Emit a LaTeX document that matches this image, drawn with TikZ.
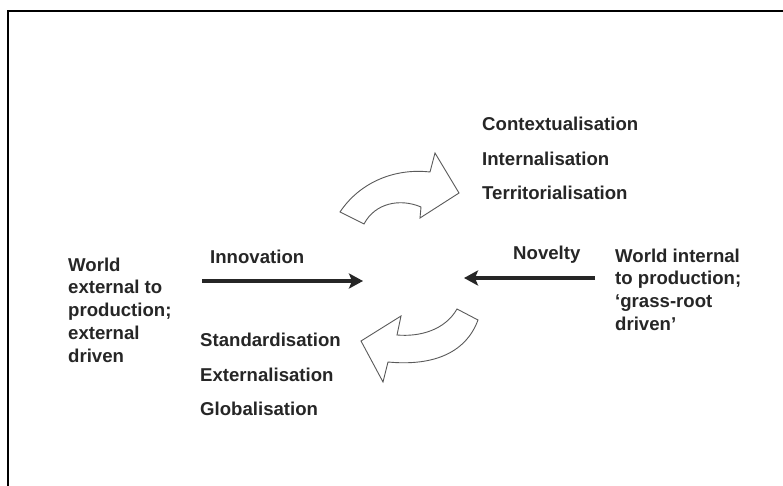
\documentclass[tikz,border=0pt]{standalone}
\usepackage{fontspec}
\setmainfont{Liberation Sans}
\usetikzlibrary{arrows.meta}
\definecolor{ink}{HTML}{262626}
\definecolor{rim}{HTML}{5A5A5A}
\tikzset{
  lbl/.style={inner sep=0pt, anchor=base west, text=ink,
    font=\bfseries\fontsize{18.6}{22.8}\selectfont},
  block/.style={lbl, anchor=north west, align=left},
  push/.style={draw=ink, line width=4.5pt,
    -{Stealth[length=14pt, width=15pt, inset=3pt]}},
  turn/.style={draw=rim, fill=white, line width=0.9pt, line join=miter}
}
\begin{document}
\begin{tikzpicture}[x=1pt, y=-1pt]
\useasboundingbox (0,0) rectangle (783,486);
\fill[white] (0,0) rectangle (783,486);
\draw[line width=2pt, black] (7.5,486) -- (7.5,11.5) -- (783,11.5);

\node[lbl] (context) at (482,131){Contextualisation};
\node[lbl] (internal) at (482,166){Internalisation};
\node[lbl] (territ) at (482,200){Territorialisation};

\node[lbl] (innov) at (210,263){Innovation};
\node[lbl] (novel) at (513,259){Novelty};

\node[block] (extworld) at (68,257.5){World\\external to\\production;\\external\\driven};
\node[block] (intworld) at (615,248.5){World internal\\to production;\\‘grass-root\\driven’};

\node[lbl] (standard) at (200,346){Standardisation};
\node[lbl] (external) at (200,381){Externalisation};
\node[lbl] (global) at (200,415){Globalisation};

\coordinate (innovtail) at (202,281);
\coordinate (innovtip) at (363,281);
\coordinate (noveltail) at (595,278);
\coordinate (noveltip) at (464,278);
\draw[push] (innovtail) -- (innovtip);
\draw[push] (noveltail) -- (noveltip);

% curved arrows
\draw[turn] (340,212) .. controls (360,182) and (395,168) .. (430,172)
  -- (435,153) -- (459,193) -- (420,218) -- (421,207)
  .. controls (400,198) and (375,203) .. (364,224) -- cycle;
\draw[turn] (457,309) .. controls (445,330) and (420,337) .. (397,335)
  -- (401,316) -- (361,341) -- (383,382) -- (388,362)
  .. controls (430,366) and (465,355) .. (478,320) -- cycle;
\end{tikzpicture}
\end{document}
